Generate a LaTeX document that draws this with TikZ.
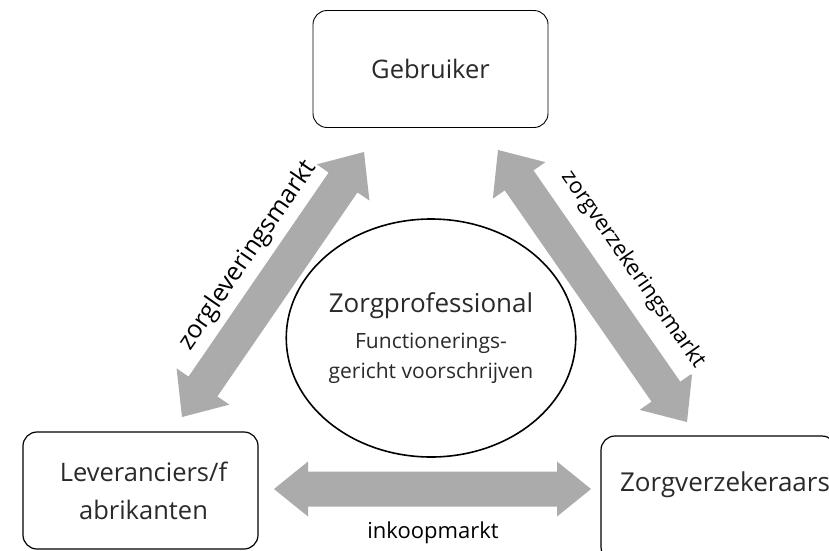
\documentclass[tikz,border=0pt]{standalone}
\usepackage{fontspec}
\setmainfont{Open Sans}
\usetikzlibrary{calc,shapes.geometric}
\definecolor{arrowgray}{HTML}{ABABAB}
\definecolor{lighttext}{HTML}{2A2A2A}
% #1 tip, #2 other tip, #3 head length, #4 head half width, #5 shaft half width
\newcommand{\fatarrow}[5]{%
  \path ($(#1)!#3!(#2)$) coordinate (ha) ($(#2)!#3!(#1)$) coordinate (hb);
  \fill[arrowgray] (#1) -- ($(ha)!#4!90:(#2)$) -- ($(ha)!#5!90:(#2)$)
    -- ($(hb)!#5!-90:(#1)$) -- ($(hb)!#4!-90:(#1)$) -- (#2)
    -- ($(hb)!#4!90:(#1)$) -- ($(hb)!#5!90:(#1)$)
    -- ($(ha)!#5!-90:(#2)$) -- ($(ha)!#4!-90:(#2)$) -- cycle;
}
\begin{document}
\begin{tikzpicture}[x=1pt,y=-1pt,
  box/.style={draw, rounded corners=14pt, line width=1.2pt, minimum width=235pt,
    minimum height=117pt, inner sep=0pt, align=center, text=lighttext,
    font=\fontsize{25.5}{38}\selectfont},
  boxtext/.style={text=lighttext, font=\fontsize{26}{38}\selectfont, align=center, inner sep=0pt},
  marketlabel/.style={fill=white, inner sep=2pt, text=black}]
\useasboundingbox (0,0) rectangle (829,550);
\clip (0,0) rectangle (829,550);
\fill[white] (0,0) rectangle (829,550);

% boxes
\node[box, line width=0.9pt] (geb) at (430.5,69) {Gebruiker};
\node[box] (lev) at (140.5,490.5) {\hspace*{6pt}Leveranciers/f\\\hspace*{6pt}abrikanten};
\node[box, minimum height=125pt] (zvb) at (718.5,498.5) {};
\node[boxtext] (zvt) at (725,485) {Zorgverzekeraars};

% central ellipse
\node[ellipse, draw, line width=1.6pt, minimum width=256pt, minimum height=238pt,
  inner sep=0pt, align=center, text=lighttext] (prof) at (431,338)
  {{\fontsize{26}{30}\selectfont Zorgprofessional}\\[14pt]
   {\fontsize{21}{31}\selectfont Functionerings-}\\[8pt]
   {\fontsize{21}{31}\selectfont gericht voorschrijven}};

% arrow end points
\coordinate (l1) at (182,417);
\coordinate (l2) at (364,152);
\coordinate (r1) at (498,150);
\coordinate (r2) at (687,422);
\coordinate (h1) at (274,489);
\coordinate (h2) at (591,489);

\fatarrow{l1}{l2}{37pt}{32pt}{17.5pt}
\fatarrow{r1}{r2}{37pt}{32pt}{17.5pt}
\fatarrow{h1}{h2}{34pt}{27.5pt}{17.5pt}

% labels
\path ($(l1)!0.53!(l2)$) coordinate (lm);
\node[marketlabel, rotate=55.52, font=\fontsize{25}{28}\selectfont] (lab1) at ($(lm)!37pt!90:(l2)$) {zorgleveringsmarkt};
\path ($(r1)!0.53!(r2)$) coordinate (rm);
\node[marketlabel, rotate=-55.21, font=\fontsize{22}{26}\selectfont] (lab2) at ($(rm)!43pt!90:(r2)$) {zorgverzekeringsmarkt};
\node[text=black, font=\fontsize{22}{26}\selectfont, inner sep=0pt] (lab3) at (433,533) {inkoopmarkt};
\end{tikzpicture}
\end{document}
